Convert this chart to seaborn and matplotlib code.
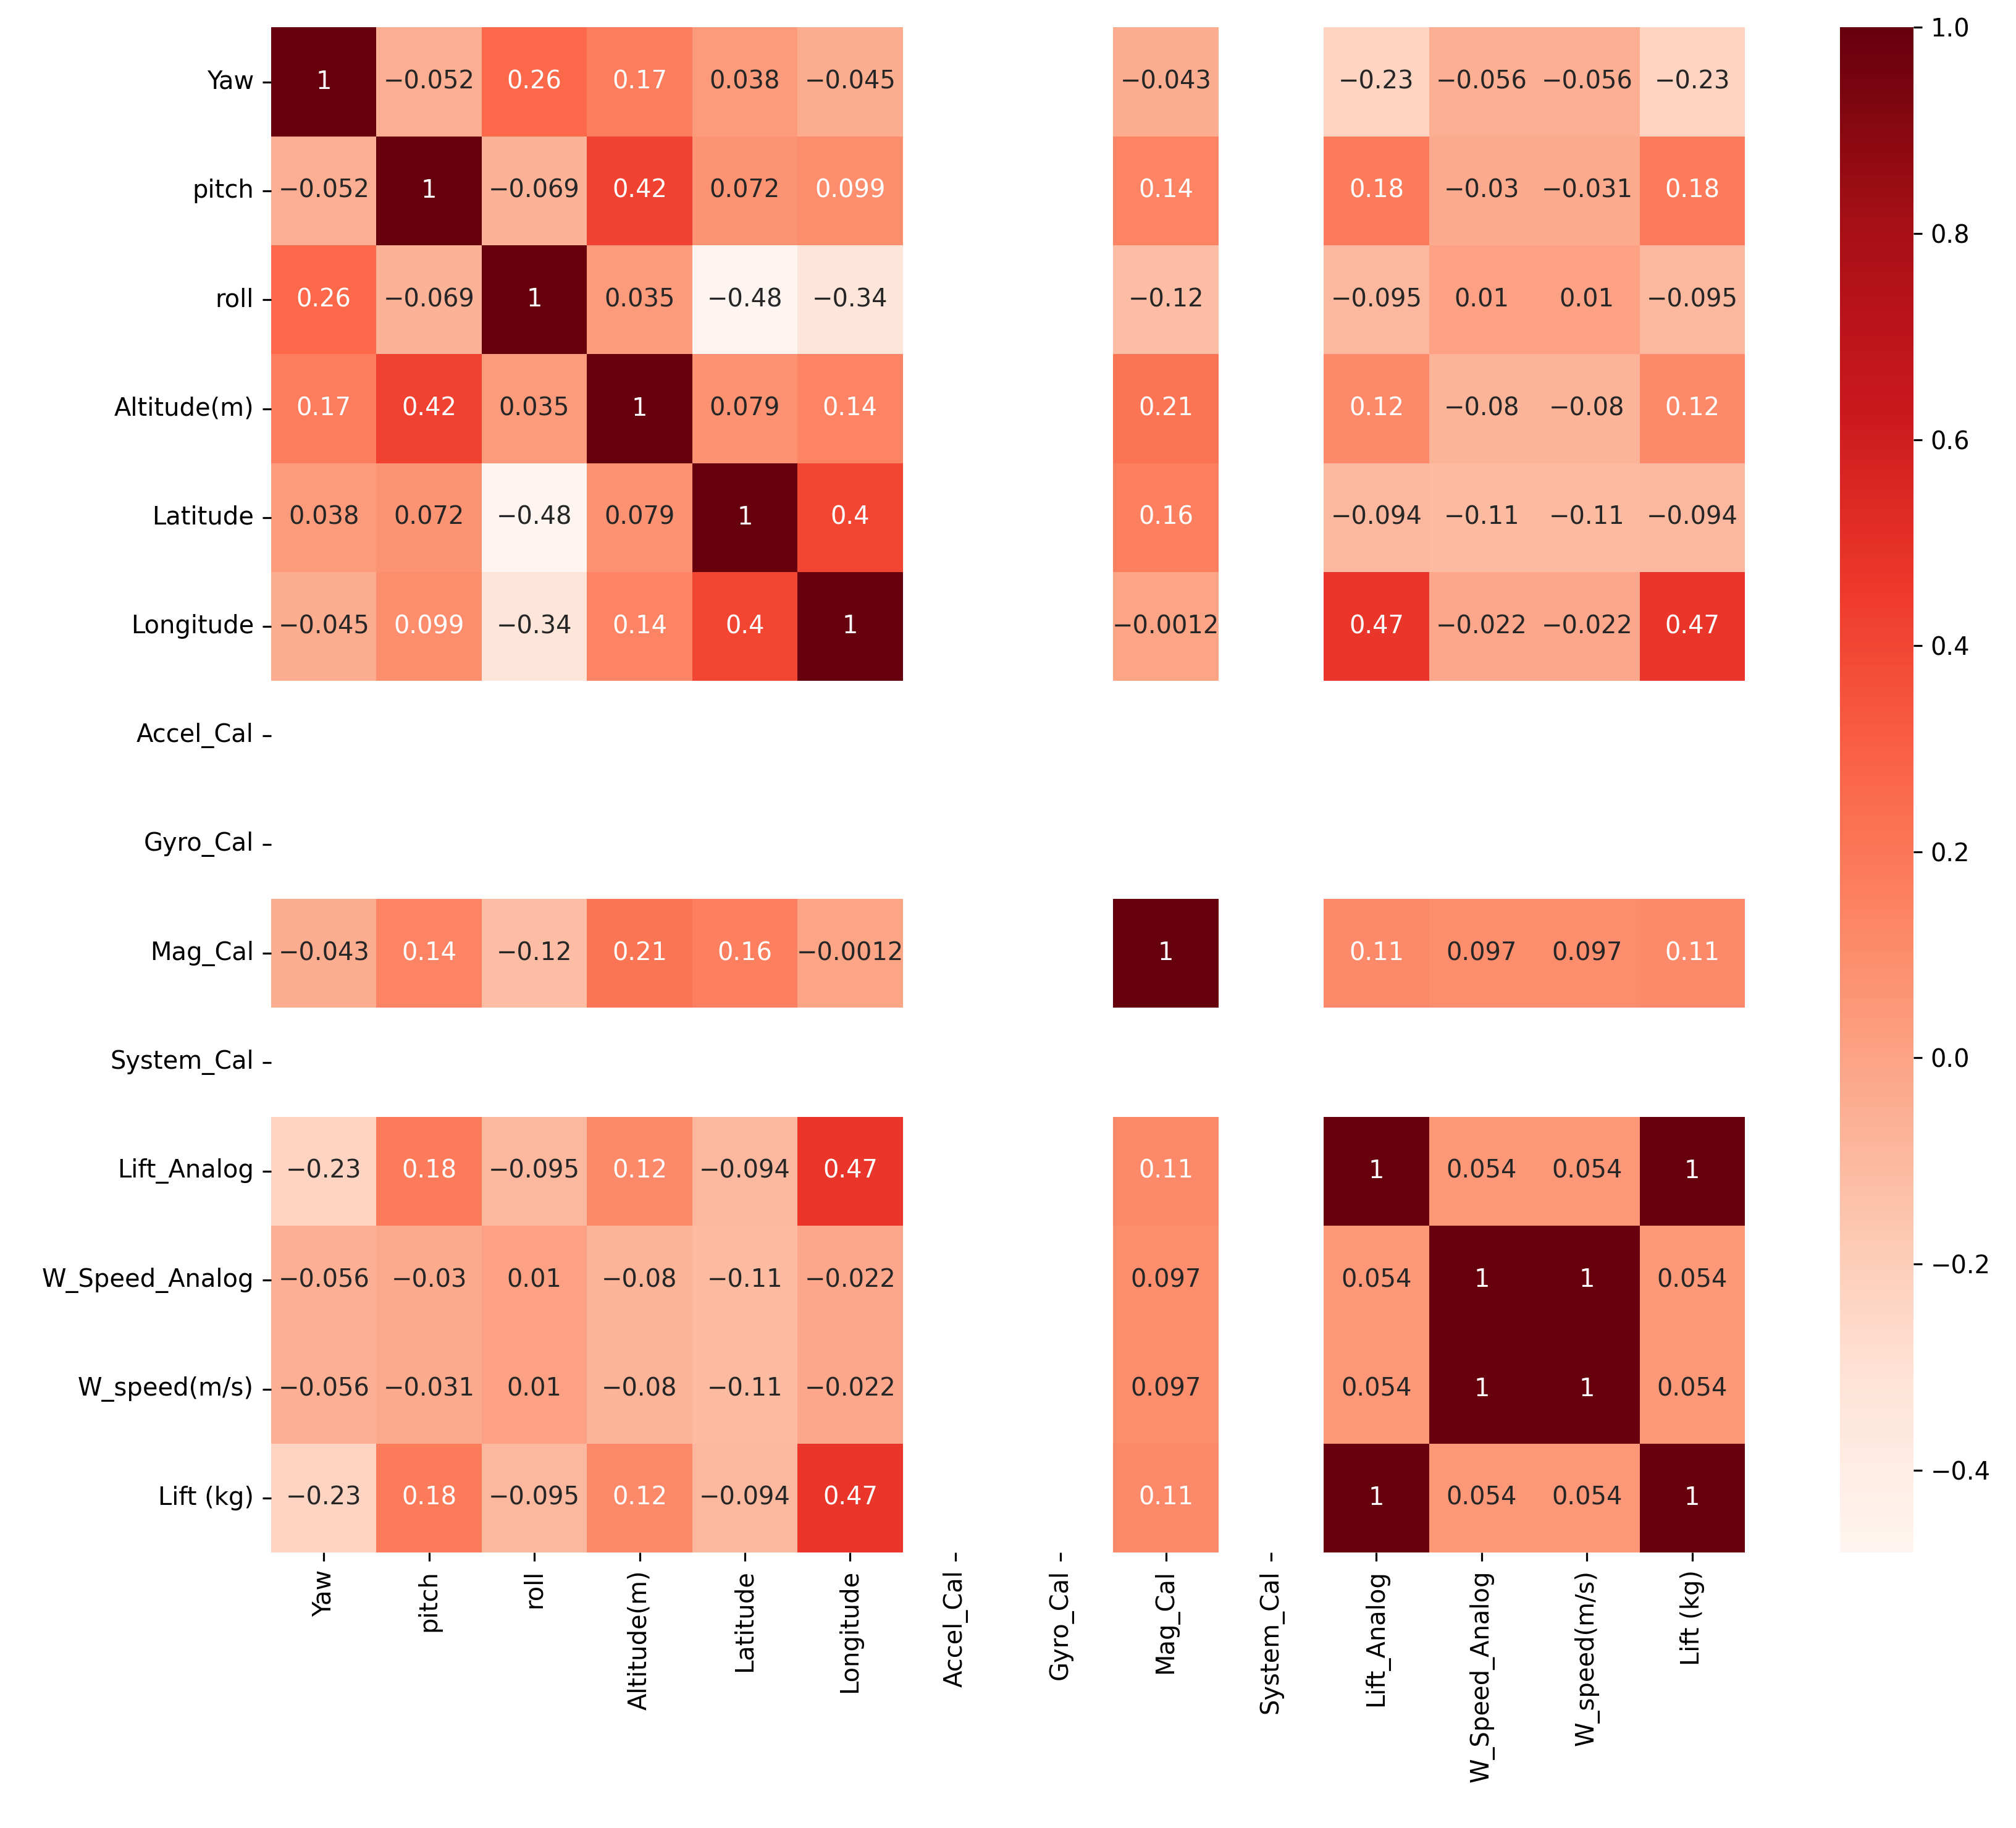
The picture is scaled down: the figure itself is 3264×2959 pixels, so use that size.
import numpy as np
import pandas as pd
import matplotlib
matplotlib.use("Agg")
import matplotlib.pyplot as plt
import seaborn as sns

cols = ["Yaw", "pitch", "roll", "Altitude(m)", "Latitude", "Longitude",
        "Accel_Cal", "Gyro_Cal", "Mag_Cal", "System_Cal", "Lift_Analog",
        "W_Speed_Analog", "W_speed(m/s)", "Lift (kg)"]

n = np.nan
yaw = [1, -0.052, 0.26, 0.17, 0.038, -0.045, n, n, -0.043, n, -0.23, -0.056, -0.056, -0.23]
pitch = [-0.052, 1, -0.069, 0.42, 0.072, 0.099, n, n, 0.14, n, 0.18, -0.03, -0.031, 0.18]
roll = [0.26, -0.069, 1, 0.035, -0.48, -0.34, n, n, -0.12, n, -0.095, 0.01, 0.01, -0.095]
altitude = [0.17, 0.42, 0.035, 1, 0.079, 0.14, n, n, 0.21, n, 0.12, -0.08, -0.08, 0.12]
latitude = [0.038, 0.072, -0.48, 0.079, 1, 0.4, n, n, 0.16, n, -0.094, -0.11, -0.11, -0.094]
longitude = [-0.045, 0.099, -0.34, 0.14, 0.4, 1, n, n, -0.0012, n, 0.47, -0.022, -0.022, 0.47]
accel_cal = [n] * 14
gyro_cal = [n] * 14
mag_cal = [-0.043, 0.14, -0.12, 0.21, 0.16, -0.0012, n, n, 1, n, 0.11, 0.097, 0.097, 0.11]
system_cal = [n] * 14
lift_analog = [-0.23, 0.18, -0.095, 0.12, -0.094, 0.47, n, n, 0.11, n, 1, 0.054, 0.054, 1]
w_speed_analog = [-0.056, -0.03, 0.01, -0.08, -0.11, -0.022, n, n, 0.097, n, 0.054, 1, 1, 0.054]
w_speed = [-0.056, -0.031, 0.01, -0.08, -0.11, -0.022, n, n, 0.097, n, 0.054, 1, 1, 0.054]
lift_kg = [-0.23, 0.18, -0.095, 0.12, -0.094, 0.47, n, n, 0.11, n, 1, 0.054, 0.054, 1]

corr = pd.DataFrame([yaw, pitch, roll, altitude, latitude, longitude, accel_cal,
                     gyro_cal, mag_cal, system_cal, lift_analog, w_speed_analog,
                     w_speed, lift_kg], index=cols, columns=cols)

# annotation strings with a real minus sign
labels = corr.map(lambda v: "" if pd.isna(v) else format(v, ".2g").replace("-", "\u2212"))

fig = plt.figure(figsize=(3264 / 288, 2959 / 288), dpi=288)
ax = fig.add_axes([0.1345, 0.1507, 0.731, 0.8343])
cax = fig.add_axes([0.9127, 0.1507, 0.0363, 0.8343])

sns.heatmap(corr, annot=labels, fmt="", cmap="Reds", ax=ax, cbar_ax=cax)

fig.savefig("out.png", dpi=288)
